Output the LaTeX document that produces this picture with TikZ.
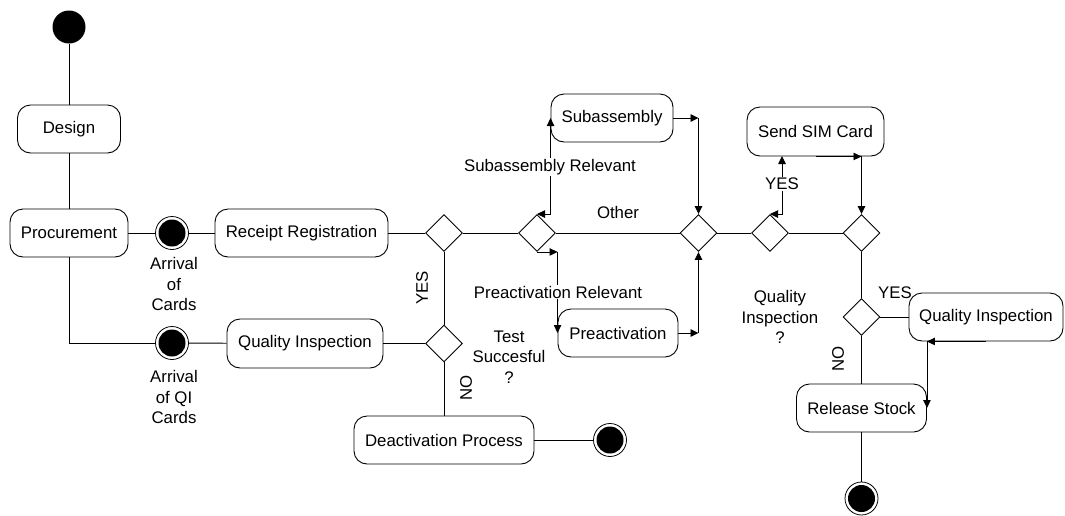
\documentclass[tikz,border=0pt]{standalone}
\usepackage{fontspec}
\setmainfont{Liberation Sans}
\usetikzlibrary{shapes.geometric,arrows.meta}
\begin{document}
\begin{tikzpicture}[x=1pt,y=-1pt,
  every node/.style={font=\fontsize{16.8}{20.5}\selectfont},
  line width=0.9pt,
  act/.style={draw, rounded corners=13pt, minimum height=48pt, inner sep=0pt, fill=white},
  decision/.style={diamond, draw, minimum width=37pt, minimum height=37pt, inner sep=0pt, aspect=1, fill=white},
  startst/.style={circle, fill=black, minimum size=33pt, inner sep=0pt},
  endst/.style={circle, draw, line width=0.8pt, minimum size=33pt, inner sep=0pt, fill=white,
    path picture={\fill[black] (path picture bounding box.center) circle (13.5pt);}},
  lbl/.style={align=center, inner sep=1pt},
  wlbl/.style={fill=white, inner sep=1pt},
  flow/.style={-{Triangle[length=8pt,width=7.5pt]}},
  flowtwo/.style={{Triangle[length=8pt,width=7.5pt]}-{Triangle[length=8pt,width=7.5pt]}},
]
\useasboundingbox (0,0) rectangle (1065,515);

% nodes
\node[startst] (start) at (69,27) {};
\node[act, minimum width=103pt] (design) at (69,129) {Design};
\node[act, minimum width=118pt] (proc) at (69,233) {Procurement};
\node[endst] (arr1) at (172,233) {};
\node[act, minimum width=173pt] (receipt) at (301.5,233) {Receipt Registration};
\node[decision] (d1) at (444,233) {};
\node[decision] (d2) at (537,233) {};
\node[decision] (d3) at (698.5,233) {};
\node[decision] (d4) at (770,233) {};
\node[decision] (d5) at (861.5,233) {};
\node[decision] (d6) at (861.5,317) {};
\node[act, minimum width=122pt] (sub) at (612,118) {Subassembly};
\node[act, minimum width=120pt] (pre) at (618,333) {Preactivation};
\node[act, minimum width=137pt, minimum height=49pt] (sim) at (815.5,131.5) {Send SIM Card};
\node[act, minimum width=154pt] (qir) at (986,317) {Quality Inspection};
\node[act, minimum width=130pt] (rel) at (861.5,408) {Release Stock};
\node[endst] (endB) at (861.5,498.5) {};
\node[endst] (arr2) at (172,343) {};
\node[act, minimum width=156pt, minimum height=49pt] (qil) at (305,343.5) {Quality Inspection};
\node[decision] (dqi) at (444,343.5) {};
\node[act, minimum width=180pt] (deact) at (444,440) {Deactivation Process};
\node[endst] (endD) at (610,440) {};

% helper coordinates
\coordinate (c2) at (pre.west |- d2.south);
\coordinate (c3) at (d3.north |- sub.east);
\coordinate (c4) at (d3.south |- pre.east);
\coordinate (c5) at (782,156);
\coordinate (c6) at (d5.north |- sim.south);
\coordinate (c7) at (rel.east |- qir.south);

% connectors
\draw (start) -- (design);
\draw (design) -- (proc);
\draw (proc) -- (arr1);
\draw (arr1) -- (receipt);
\draw (proc.south) |- (arr2.west);
\draw (arr2) -- (qil);
\draw (qil) -- (dqi);
\draw (receipt) -- (d1);
\draw (d1) -- (d2);
\draw (d2) -- (d3);
\draw (d3) -- (d4);
\draw (d4) -- (d5);
\draw (d1) -- (dqi);
\draw (dqi) -- (deact);
\draw (deact) -- (endD);
\draw[flowtwo] (d2.north) -| (sub.west);
\draw[flow] (d2.south) -- (c2);
\draw[flow] (c2) -- (pre.west);
\draw[flow] (sub.east) -- (c3);
\draw[flow] (c3) -- (d3.north);
\draw[flow] (pre.east) -- (c4);
\draw[flow] (c4) -- (d3.south);
\draw[flowtwo] (d4.north) -| (c5);
\draw[flow] (sim.south) -- (c6);
\draw[flow] (c6) -- (d5.north);
\draw (d5) -- (d6);
\draw (d6) -- (qir);
\draw (d6) -- (rel);
\draw[flow] (qir.south) -- (c7);
\draw[flow] (c7) -- (rel.east);
\draw (rel) -- (endB);

% labels
\node[lbl] (l1) at (174,284) {Arrival\\of\\Cards};
\node[lbl] (l2) at (174,397) {Arrival\\of QI\\Cards};
\node[lbl] (l3) at (509,357) {Test\\Succesful\\?};
\node[wlbl] (l4) at (550,167) {Subassembly Relevant};
\node[lbl] (l5) at (618,212) {Other};
\node[wlbl] (l6) at (558,292) {Preactivation Relevant};
\node[lbl] (l7) at (780,317) {Quality\\Inspection\\?};
\node[wlbl] (l8) at (782,184) {YES};
\node[lbl] (l9) at (895,293) {YES};
\node[rotate=90, inner sep=1pt] (l10) at (422,288) {YES};
\node[rotate=90, inner sep=1pt] (l11) at (466,388) {NO};
\node[rotate=90, inner sep=1pt] (l12) at (838,359) {NO};
\end{tikzpicture}
\end{document}
